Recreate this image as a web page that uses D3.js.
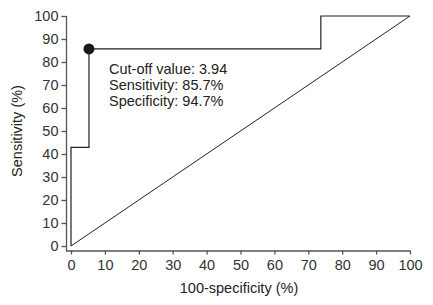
<!DOCTYPE html>
<html><head><meta charset="utf-8">
<script src="https://cdn.jsdelivr.net/npm/d3@7"></script>
<style>body{margin:0;background:#fff}</style>
</head><body>
<svg id="c" width="433" height="305"></svg>
<script>
const rocX = [0, 0, 5.3, 5.3, 73.7, 73.7, 100];
const rocY = [0, 42.86, 42.86, 85.7, 85.7, 100, 100];
const refX = [0, 100];
const refY = [0, 100];
const cutoff = {x: 5.3, y: 85.7};
const annotation = ["Cut-off value: 3.94", "Sensitivity: 85.7%", "Specificity: 94.7%"];
const ticks = [0,10,20,30,40,50,60,70,80,90,100];

const svg = d3.select("#c");
const x = d3.scaleLinear().domain([0,100]).range([71,410]);
const y = d3.scaleLinear().domain([0,100]).range([246,16]);
const font = "Liberation Sans, Arial, sans-serif";
const fs = 14.5;
const axisCol = "#555";

// axes
const gx = svg.append("g").attr("transform","translate(0,250.5)")
  .call(d3.axisBottom(x).tickValues(ticks).tickSize(4).tickPadding(5).tickSizeOuter(0));
gx.select(".domain").attr("d", `M66,0.5H${x(100)}`);
const gy = svg.append("g").attr("transform","translate(66.5,0)")
  .call(d3.axisLeft(y).tickValues(ticks).tickSize(5).tickPadding(3).tickSizeOuter(0));
gy.select(".domain").attr("d", `M0,${y(100)}V251`);
svg.selectAll(".tick line,.domain").attr("stroke", axisCol).attr("stroke-width",1.3);
svg.selectAll(".tick text").attr("font-family",font).attr("font-size",fs).attr("fill","#333");

// reference diagonal
svg.append("path")
  .attr("d", d3.line().x((d,i)=>x(refX[i])).y((d,i)=>y(refY[i]))(refX))
  .attr("fill","none").attr("stroke","#222").attr("stroke-width",1);

// ROC curve
svg.append("path")
  .attr("d", d3.line().x((d,i)=>x(rocX[i])).y((d,i)=>y(rocY[i]))(rocX))
  .attr("fill","none").attr("stroke","#222").attr("stroke-width",1.2);

svg.append("circle").attr("cx",x(cutoff.x)).attr("cy",y(cutoff.y)).attr("r",5.5).attr("fill","#1a1a1a");

// annotation
svg.append("g").selectAll("text").data(annotation).join("text")
  .attr("x",109).attr("y",(d,i)=>74+i*16)
  .attr("font-family",font).attr("font-size",fs).attr("fill","#222")
  .text(d=>d);

// axis titles
svg.append("text").attr("x",239).attr("y",293).attr("text-anchor","middle")
  .attr("font-family",font).attr("font-size",fs).attr("fill","#222").text("100-specificity (%)");
svg.append("text").attr("transform","translate(22,131) rotate(-90)").attr("text-anchor","middle")
  .attr("font-family",font).attr("font-size",fs).attr("fill","#222").text("Sensitivity (%)");
</script>
</body></html>
